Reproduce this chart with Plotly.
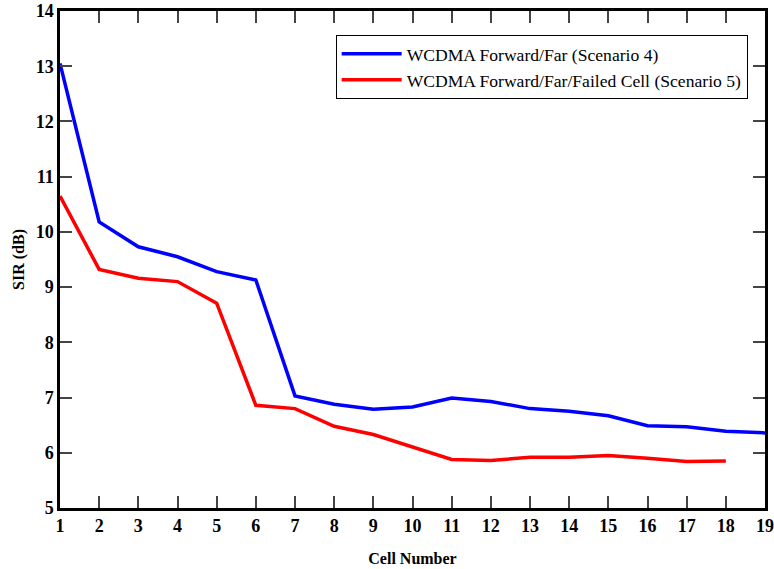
import plotly.graph_objects as go

cells = list(range(1, 20))
scenario4 = [13.05, 10.18, 9.73, 9.55, 9.28, 9.13, 7.03, 6.88, 6.79, 6.83, 6.99, 6.93, 6.80, 6.75, 6.67, 6.49, 6.47, 6.39, 6.36]
cells5 = list(range(1, 19))
scenario5 = [10.65, 9.32, 9.16, 9.10, 8.71, 6.86, 6.80, 6.48, 6.33, 6.10, 5.88, 5.86, 5.92, 5.92, 5.95, 5.90, 5.84, 5.85]

font_family = "Liberation Serif"

fig = go.Figure()
fig.add_trace(go.Scatter(x=cells, y=scenario4, mode="lines",
                         name="WCDMA Forward/Far (Scenario 4)",
                         line=dict(color="#0000ff", width=3.5)))
fig.add_trace(go.Scatter(x=cells5, y=scenario5, mode="lines",
                         name="WCDMA Forward/Far/Failed Cell (Scenario 5)",
                         line=dict(color="#ff0000", width=3.5)))

axis_common = dict(showgrid=False, zeroline=False, showline=True, linecolor="black",
                   linewidth=2.5, mirror="ticks", ticks="inside", ticklen=12,
                   tickwidth=1.5, tickcolor="#444", automargin=False,
                   tickfont=dict(family=font_family, size=18, color="black"))

fig.update_xaxes(range=[1, 19], tickmode="array", tickvals=cells,
                 ticktext=[f"<b>{c}</b>" for c in cells],
                 title=dict(text="<b>Cell Number</b>", font=dict(family=font_family, size=16, color="black"), standoff=18),
                 **axis_common)
fig.update_yaxes(range=[5, 14], tickmode="array", tickvals=list(range(5, 15)),
                 ticktext=[f"<b>{v}</b>" for v in range(5, 15)],
                 title=dict(text="<b>SIR (dB)</b>", font=dict(family=font_family, size=16, color="black"), standoff=8),
                 **axis_common)

fig.update_layout(
    width=774, height=569,
    margin=dict(l=60, r=9, t=11, b=61),
    plot_bgcolor="white", paper_bgcolor="white",
    legend=dict(x=0.391, y=0.952, xanchor="left", yanchor="top",
                bordercolor="black", borderwidth=1, bgcolor="white",
                font=dict(family=font_family, size=17.6, color="black"),
                tracegroupgap=0, itemwidth=60),
    showlegend=True,
)

fig.write_html("out.html")
